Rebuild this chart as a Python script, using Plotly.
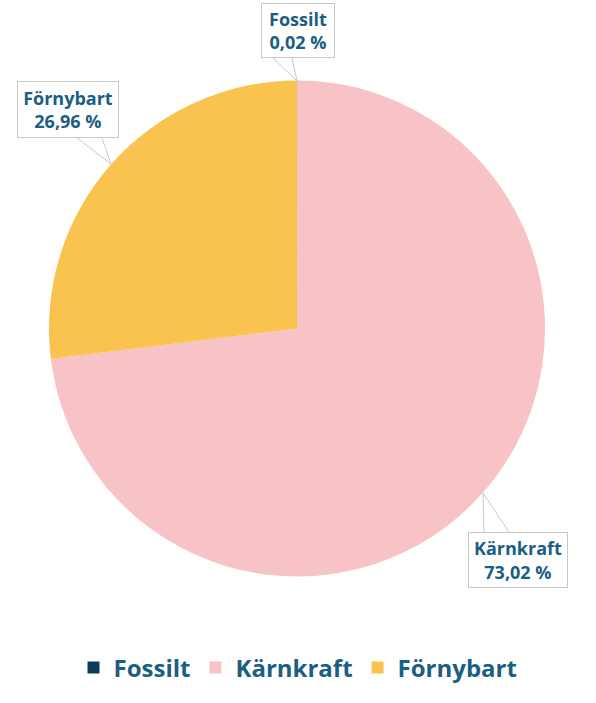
import plotly.graph_objects as go

categories = ["Fossilt", "Kärnkraft", "Förnybart"]
values = [0.02, 73.02, 26.96]
colors = ["#0b3d5b", "#f7c3c6", "#fac24f"]

W, H = 596, 703
TXT = "#1b5e84"
FONT = "Open Sans"

def px(x, y):
    return x / W, 1 - y / H

fig = go.Figure(go.Pie(
    labels=categories, values=values, sort=False, direction="clockwise", rotation=0,
    marker=dict(colors=colors, line=dict(width=0)), textinfo="none", hoverinfo="label+percent",
    domain=dict(x=[49 / W, 545 / W], y=[1 - 577 / H, 1 - 80 / H]),
))

def fmt(v):
    return f"{v:.2f}".replace(".", ",") + " %"

boxes = {
    "Fossilt": ((261, 3, 335, 58), [(273, 58), (297, 81), (292, 58)]),
    "Förnybart": ((17, 81, 119, 138), [(77, 138), (111, 164), (102, 138)]),
    "Kärnkraft": ((468, 532, 568, 588), [(484, 532), (483, 493), (509, 532)]),
}

annotations = []
shapes = []
for cat, val in zip(categories, values):
    (x0, y0, x1, y1), pts = boxes[cat]
    cx, cy = px((x0 + x1) / 2, (y0 + y1) / 2)
    annotations.append(dict(
        x=cx, y=cy, xref="paper", yref="paper", xanchor="center", yanchor="middle",
        text=f"<b>{cat}</b><br><b>{fmt(val)}</b>", showarrow=False,
        font=dict(family=FONT, size=18, color=TXT), align="center",
        bgcolor="white", bordercolor="#c8c8c8", borderwidth=1, borderpad=0,
        width=x1 - x0 - 2, height=y1 - y0 - 2,
    ))
    path = "M " + " L ".join(f"{px(a, b)[0]},{px(a, b)[1]}" for a, b in pts)
    shapes.append(dict(type="path", xref="paper", yref="paper", path=path,
                       line=dict(color="#c8c8c8", width=1)))

fig.update_layout(
    width=W, height=H, margin=dict(l=0, r=0, t=0, b=0),
    paper_bgcolor="white", plot_bgcolor="white",
    annotations=annotations, shapes=shapes,
    showlegend=True,
    legend=dict(orientation="h", x=0.5, xanchor="center", y=1 - 668 / H, yanchor="middle",
                font=dict(family=FONT, size=24, color=TXT, weight="bold"),
                itemwidth=30, traceorder="normal"),
)

fig.write_html("out.html", config={"displayModeBar": False},
               post_script="document.body.style.margin='0';")
